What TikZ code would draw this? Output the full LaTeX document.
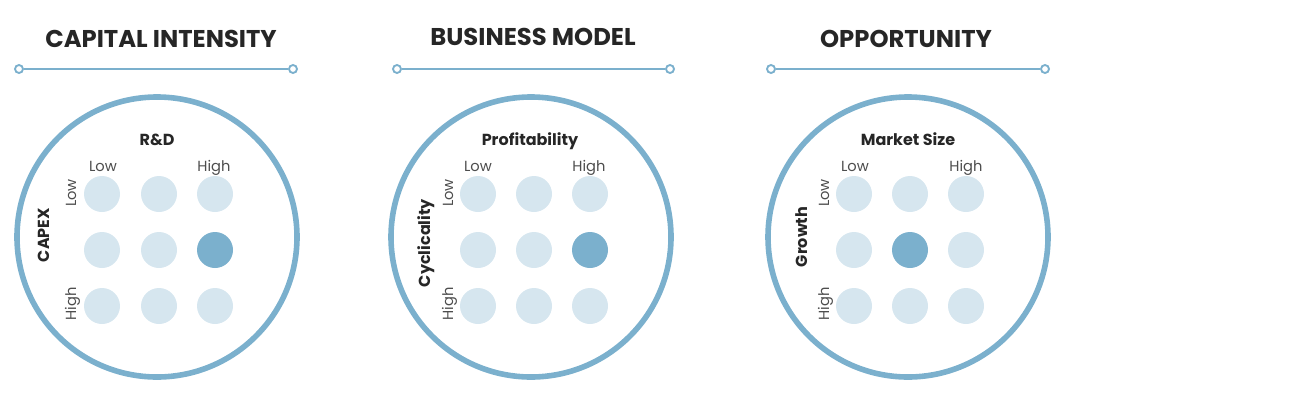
\documentclass[tikz,border=0pt]{standalone}
\usepackage{fontspec}
\setmainfont{Poppins}
\usepackage{tikz}

\definecolor{ringblue}{HTML}{7BB0CD}
\definecolor{dotlight}{HTML}{D6E6EF}
\definecolor{textdark}{HTML}{262626}
\definecolor{textgray}{HTML}{4D4D4D}

\tikzset{
  title/.style={font=\bfseries\fontsize{18.2}{21}\selectfont,text=textdark,anchor=base},
  knob/.style={circle,draw=ringblue,line width=1.4pt,fill=white,inner sep=0pt,minimum size=6pt},
  rule/.style={draw=ringblue,line width=1.6pt},
  ring/.style={circle,draw=ringblue,line width=4.2pt,inner sep=0pt,minimum size=210pt},
  dot/.style={circle,fill=dotlight,inner sep=0pt,minimum size=27pt},
  hot/.style={dot,fill=ringblue},
  axis/.style={font=\bfseries\fontsize{12}{14}\selectfont,text=textdark,anchor=base},
  level/.style={font=\fontsize{11}{13}\selectfont,text=textgray,anchor=base}
}

\begin{document}
\begin{tikzpicture}[x=0.75pt,y=-0.75pt]
	  \useasboundingbox (0,0) rectangle (1312,404);
	  % capital intensity
	  \node[title] (t1) at (161,47) {CAPITAL INTENSITY};
	  \node[knob] (k1a) at (19,69) {};
	  \node[knob] (k1b) at (293,69) {};
	  \draw[rule] (k1a) -- (k1b);
	  \node[ring] (c1) at (157,237) {};
	  \node[axis] (h1) at (157,145) {R\&D};
	  \node[axis,rotate=90] (v1) at (49,235) {CAPEX};
	  \node[level] (h1lo) at (103,171) {Low};
	  \node[level] (h1hi) at (214,171) {High};
	  \node[level,rotate=90] (v1lo) at (76,193) {Low};
	  \node[level,rotate=90] (v1hi) at (76,304) {High};
	  \node[dot] (a11) at (102,194) {};
	  \node[dot] (a12) at (159,194) {};
	  \node[dot] (a13) at (215,194) {};
	  \node[dot] (a21) at (102,250) {};
	  \node[dot] (a22) at (159,250) {};
	  \node[hot] (a23) at (215,250) {};
	  \node[dot] (a31) at (102,306) {};
	  \node[dot] (a32) at (159,306) {};
	  \node[dot] (a33) at (215,306) {};
	  % business model
	  \node[title] (t2) at (533,45) {BUSINESS MODEL};
	  \node[knob] (k2a) at (397,69) {};
	  \node[knob] (k2b) at (670,69) {};
	  \draw[rule] (k2a) -- (k2b);
	  \node[ring] (c2) at (531,237) {};
	  \node[axis] (h2) at (530,145) {Profitability};
	  \node[axis,rotate=90] (v2) at (430,243) {Cyclicality};
	  \node[level] (h2lo) at (478,171) {Low};
	  \node[level] (h2hi) at (589,171) {High};
	  \node[level,rotate=90] (v2lo) at (453,193) {Low};
	  \node[level,rotate=90] (v2hi) at (453,304) {High};
	  \node[dot] (b11) at (478,194) {};
	  \node[dot] (b12) at (534,194) {};
	  \node[dot] (b13) at (590,194) {};
	  \node[dot] (b21) at (478,250) {};
	  \node[dot] (b22) at (534,250) {};
	  \node[hot] (b23) at (590,250) {};
	  \node[dot] (b31) at (478,306) {};
	  \node[dot] (b32) at (534,306) {};
	  \node[dot] (b33) at (590,306) {};
	  % opportunity
	  \node[title] (t3) at (906,47) {OPPORTUNITY};
	  \node[knob] (k3a) at (771,69) {};
	  \node[knob] (k3b) at (1045,69) {};
	  \draw[rule] (k3a) -- (k3b);
	  \node[ring] (c3) at (908,237) {};
	  \node[axis] (h3) at (908,145) {Market Size};
	  \node[axis,rotate=90] (v3) at (807,237) {Growth};
	  \node[level] (h3lo) at (855,171) {Low};
	  \node[level] (h3hi) at (966,171) {High};
	  \node[level,rotate=90] (v3lo) at (829,193) {Low};
	  \node[level,rotate=90] (v3hi) at (829,304) {High};
	  \node[dot] (d11) at (854,194) {};
	  \node[dot] (d12) at (910,194) {};
	  \node[dot] (d13) at (966,194) {};
	  \node[dot] (d21) at (854,250) {};
	  \node[hot] (d22) at (910,250) {};
	  \node[dot] (d23) at (966,250) {};
	  \node[dot] (d31) at (854,306) {};
	  \node[dot] (d32) at (910,306) {};
	  \node[dot] (d33) at (966,306) {};
	\end{tikzpicture}
\end{document}
